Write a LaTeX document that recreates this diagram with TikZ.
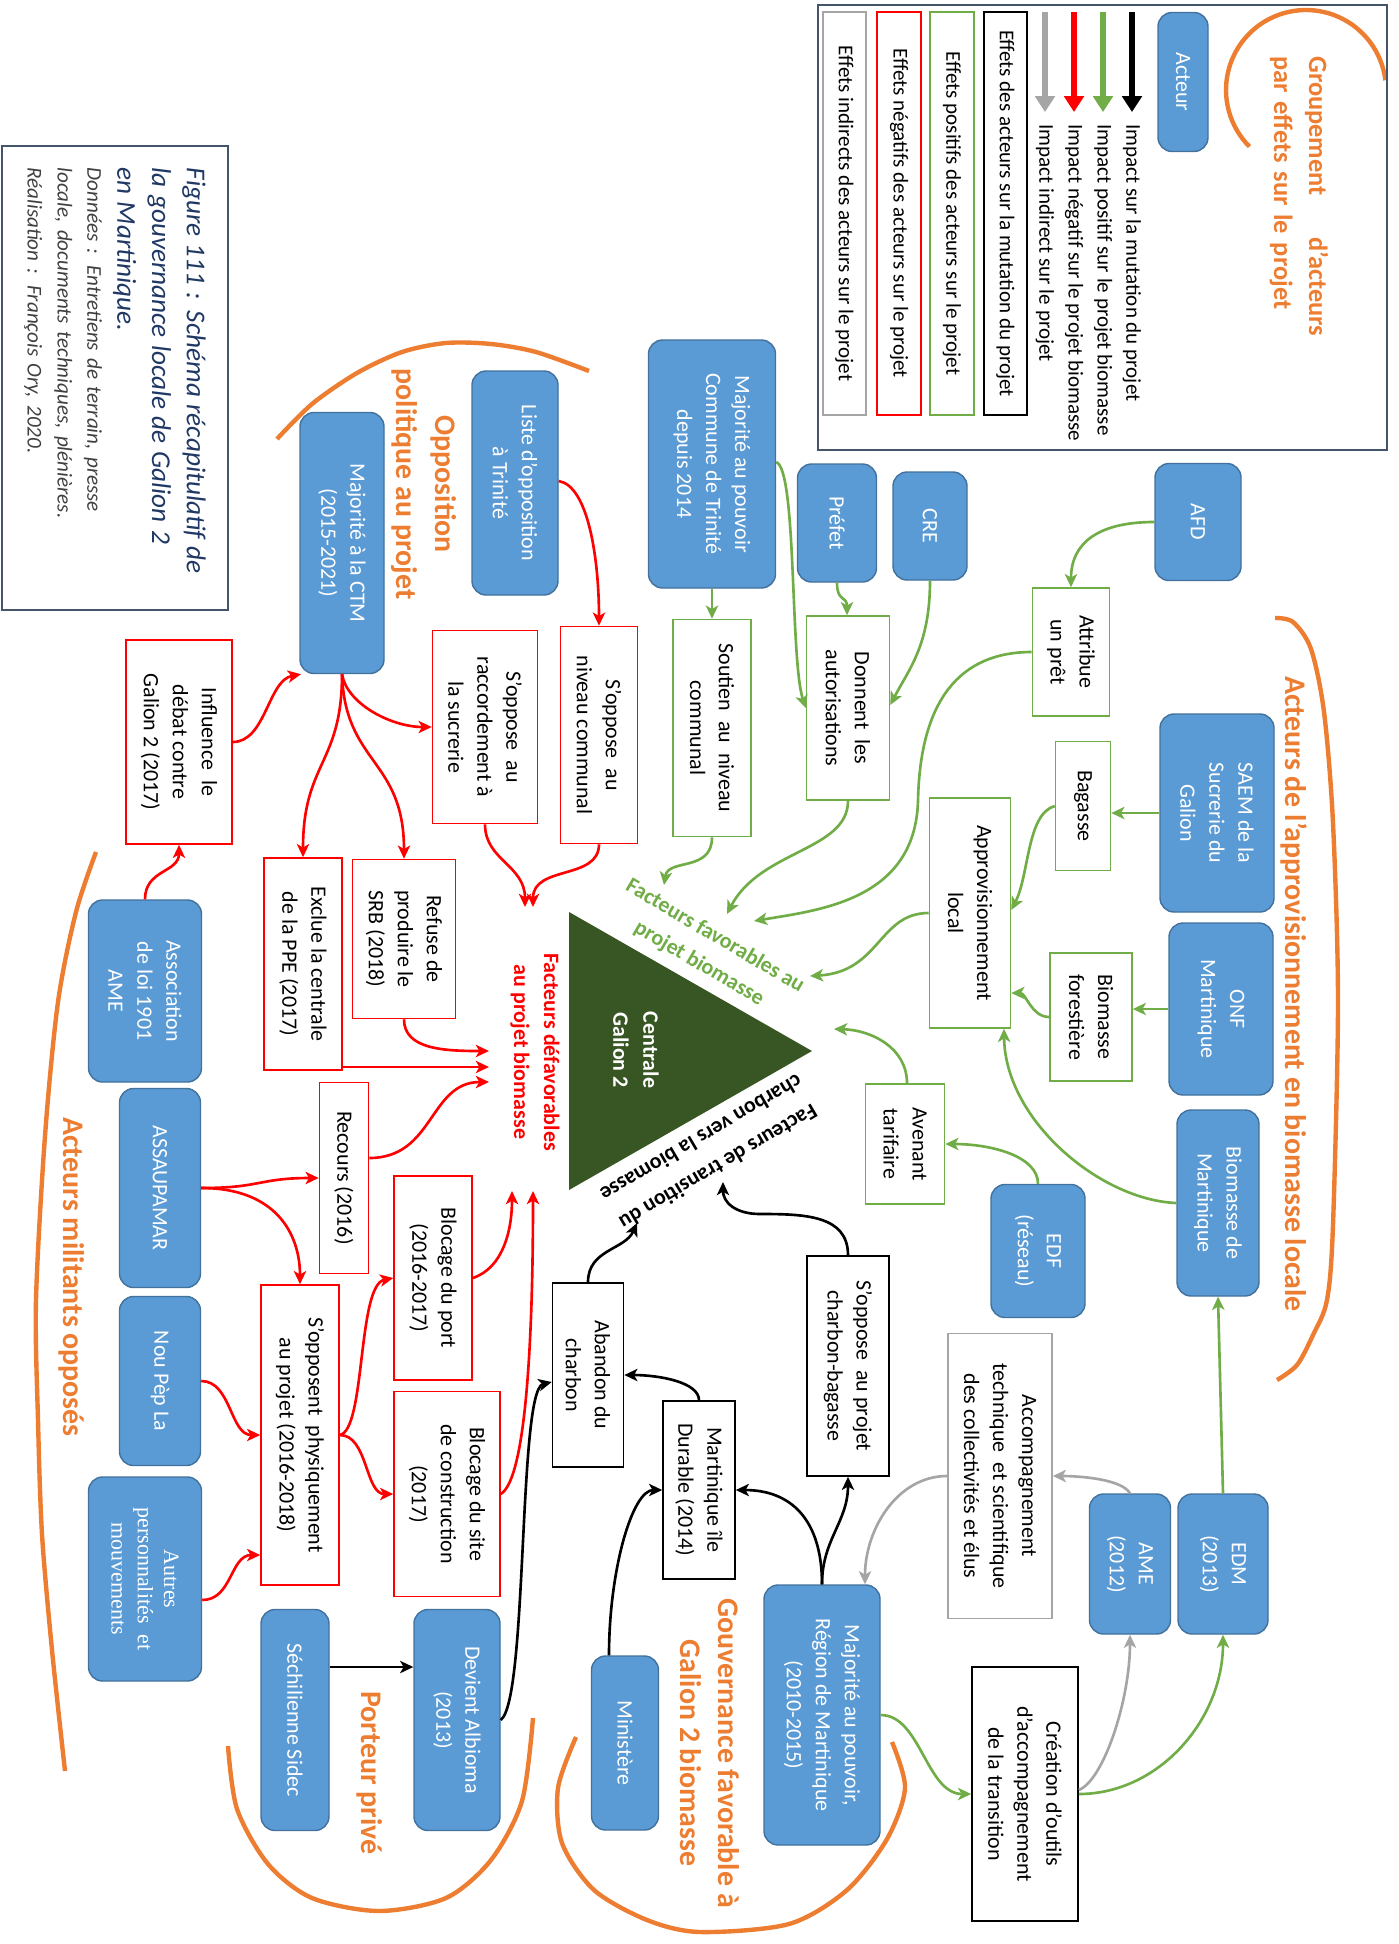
\documentclass[tikz,border=0pt]{standalone}
\usepackage{fontspec}
\setmainfont{Carlito}
\newfontfamily\serifont{Liberation Serif}
\usetikzlibrary{arrows.meta,calc}
\definecolor{actfill}{HTML}{5B9BD5}
\definecolor{actdraw}{HTML}{41719C}
\definecolor{grn}{HTML}{70AD47}
\definecolor{gry}{HTML}{A5A5A5}
\definecolor{org}{HTML}{ED7D31}
\definecolor{trif}{HTML}{375623}
\definecolor{frame}{HTML}{44546A}
\definecolor{navy}{HTML}{1F3864}
\definecolor{capgray}{HTML}{404040}
\definecolor{rd}{HTML}{FF0000}
\begin{document}
\begin{tikzpicture}[x=0.02cm,y=-0.02cm,
  vb/.style={rotate=-90, inner sep=1pt, align=center, font=\fontsize{12.5}{16.5}\selectfont},
  sz/.style 2 args={minimum height={#1*0.02cm}, minimum width={#2*0.02cm}},
  actor/.style={vb, fill=actfill, draw=actdraw, line width=0.8pt, rounded corners=8pt, text=white},
  gbox/.style={vb, draw=grn, fill=white, line width=0.9pt},
  rbox/.style={vb, draw=rd, fill=white, line width=0.9pt},
  kbox/.style={vb, draw=black, fill=white, line width=0.9pt},
  ybox/.style={vb, draw=gry, fill=white, line width=0.9pt},
  heading/.style={vb, inner sep=0pt, text=org, font=\bfseries\fontsize{17}{22}\selectfont},
  arrtip/.style={-{Stealth[length=7.5pt,width=7pt,inset=2pt]}},
  garr/.style={draw=grn, line width=1.5pt, arrtip},
  rarr/.style={draw=rd, line width=1.5pt, arrtip},
  karr/.style={draw=black, line width=1.5pt, arrtip},
  yarr/.style={draw=gry, line width=1.5pt, arrtip},
  orarc/.style={draw=org, line width=2.5pt},
  larr/.style={line width=3pt, -{Triangle[length=9pt,width=11pt]}},
  legtxt/.style={vb, inner sep=0pt, font=\fontsize{12}{15}\selectfont},
]
\path[use as bounding box, fill=white] (0,0) rectangle (1399,1944);

% ---------- orange group arcs ----------
\draw[orarc] plot[domain=225:7, samples=60, variable=\t] ({1306+80*cos(\t)},{90-80*sin(\t)});
\draw[orarc] plot[smooth] coordinates {(277,439) (312,404) (357,373) (402,352) (446,343) (491,344) (536,352) (589,371)};
\draw[orarc] plot[smooth] coordinates {(1275,618) (1293,622) (1311,649) (1324,712) (1333,823) (1338,1002) (1333,1225) (1327,1300) (1313,1335) (1297,1365) (1277,1380)};
\draw[orarc] plot[smooth] coordinates {(96,852) (76,912) (58,1002) (45,1136) (36,1300) (38,1420) (42,1534) (52,1650) (65,1771)};
\draw[orarc] plot[smooth] coordinates {(228,1746) (237,1809) (268,1864) (312,1898) (379,1911) (446,1898) (491,1860) (522,1801) (533,1718)};
\draw[orarc] plot[smooth] coordinates {(576,1737) (558,1788) (562,1843) (594,1890) (647,1920) (700,1932) (789,1924) (847,1890) (887,1839) (905,1788) (892,1742)};

% ---------- caption ----------
\node[vb, draw=frame, line width=1.5pt, sz={226}{464}, inner sep=0pt, align=left, text width=8.42cm] (caption) at (115,378) {%
{\noindent\color{navy}\itshape\fontsize{15.5}{19.8}\selectfont
\makebox[8.42cm][s]{Figure 111 : Schéma récapitulatif de}\newline
\makebox[8.42cm][s]{la gouvernance locale de Galion 2}\newline
en Martinique.\par}
{\noindent\color{capgray}\itshape\fontsize{12}{17}\selectfont
\makebox[8.42cm][s]{Données : Entretiens de terrain, presse}\newline
\makebox[8.42cm][s]{locale, documents techniques, plénières.}\newline
Réalisation : François Ory, 2020.\par}};

% ---------- legend ----------
\node[draw=frame, line width=1.3pt, minimum width={569*0.02cm}, minimum height={445*0.02cm}, inner sep=0pt] (legend) at (1102.5,227.5) {};
\node[vb, inner sep=0pt, text=org, anchor=west, align=left, text width=5.7cm, font=\bfseries\fontsize{15}{20}\selectfont] (hgroup) at (1299,56)
  {\hbox to 5.6cm{Groupement\hfill d’acteurs}\newline par effets sur le projet};
\node[actor, sz={50}{139}] (acteur) at (1183,82) {Acteur};
\node[legtxt, anchor=west] (lk) at (1132,124) {Impact sur la mutation du projet};
\node[legtxt, anchor=west] (lg) at (1103,124) {Impact positif sur le projet biomasse};
\node[legtxt, anchor=west] (lr) at (1074,124) {Impact négatif sur le projet biomasse};
\node[legtxt, anchor=west] (ly) at (1045,124) {Impact indirect sur le projet};
\coordinate (lk0) at (1132,12); \coordinate (lg0) at (1103,12);
\coordinate (lr0) at (1074,12); \coordinate (ly0) at (1045,12);
\draw[larr, black] (lk0) -- ($(lk.west)+(0,-12)$);
\draw[larr, grn] (lg0) -- ($(lg.west)+(0,-12)$);
\draw[larr, rd] (lr0) -- ($(lr.west)+(0,-12)$);
\draw[larr, gry] (ly0) -- ($(ly.west)+(0,-12)$);
\node[kbox, sz={43}{403}, font=\fontsize{12}{15}\selectfont] (lgk) at (1005.5,213.5) {Effets des acteurs sur la mutation du projet};
\node[gbox, sz={44}{403}, font=\fontsize{12}{15}\selectfont] (lgg) at (952,213.5) {Effets positifs des acteurs sur le projet};
\node[rbox, sz={44}{403}, font=\fontsize{12}{15}\selectfont] (lgr) at (899,213.5) {Effets négatifs des acteurs sur le projet};
\node[ybox, sz={43}{403}, font=\fontsize{12}{15}\selectfont] (lgy) at (844.5,213.5) {Effets indirects des acteurs sur le projet};

% ---------- headings ----------
\node[heading, font=\bfseries\fontsize{17}{22.7}\selectfont] (hopp) at (424,484) {Opposition\\politique au projet};
\node[heading] (happro) at (1294,994) {Acteurs de l’approvisionnement en biomasse locale};
\node[heading] (hmil) at (72,1277) {Acteurs militants opposés};
\node[heading] (hport) at (370,1773) {Porteur privé};
\node[heading, font=\bfseries\fontsize{17}{21.5}\selectfont] (hgouv) at (710,1753) {Gouvernance favorable à\\Galion 2 biomasse};

% ---------- central triangle ----------
\fill[trif] (569,912) -- (569,1190) -- (812,1051) -- cycle;
\node[vb, text=white, font=\bfseries\fontsize{12.5}{17}\selectfont] (centrale) at (636,1050) {Centrale\\Galion 2};
\node[rotate=-30.5, inner sep=0pt, align=center, text=grn, font=\bfseries\fontsize{12.5}{18}\selectfont] (tfav) at (707,950) {Facteurs favorables au\\projet biomasse};
\node[rotate=210.5, inner sep=0pt, align=center, text=black, font=\bfseries\fontsize{12.5}{19}\selectfont] (ttrans) at (710,1153) {Facteurs de transition du\\charbon vers la biomasse};
\node[vb, inner sep=0pt, text=rd, font=\bfseries\fontsize{12.5}{17}\selectfont] (tdef) at (535,1052) {Facteurs défavorables\\au projet biomasse};

% ---------- actors ----------
\node[actor, sz={127}{248}] (trin) at (712,464) {Majorité au pouvoir\\Commune de Trinité\\depuis 2014};
\node[actor, sz={79}{118}] (prefet) at (837,523) {Préfet};
\node[actor, sz={74}{108}] (cre) at (930,526) {CRE};
\node[actor, sz={86}{117}] (afd) at (1198,522) {AFD};
\node[actor, sz={86}{224}] (liste) at (515,483) {Liste d’opposition\\à Trinité};
\node[actor, sz={84}{261}] (ctm) at (342,543) {Majorité à la CTM\\(2015-2021)};
\node[actor, sz={114}{198}] (saem) at (1217,813) {SAEM de la\\Sucrerie du\\Galion};
\node[actor, sz={104}{172}] (onf) at (1221,1009) {ONF\\Martinique};
\node[actor, sz={82}{186}] (bdm) at (1218,1203) {Biomasse de\\Martinique};
\node[actor, sz={94}{133}] (edf) at (1038,1251) {EDF\\(réseau)};
\node[actor, sz={90}{140}] (edm) at (1223,1564) {EDM\\(2013)};
\node[actor, sz={81}{140}] (ame2) at (1130,1564) {AME\\(2012)};
\node[actor, sz={116}{260}] (region) at (822,1715) {Majorité au pouvoir,\\Région de Martinique\\(2010-2015)};
\node[actor, sz={67}{174}] (minist) at (625,1743) {Ministère};
\node[actor, sz={86}{221}] (albioma) at (457,1720) {Devient Albioma\\(2013)};
\node[actor, sz={68}{221}] (sechi) at (295,1720) {Séchilienne Sidec};
\node[actor, sz={113}{182}] (assoc) at (145,991) {Association\\de loi 1901\\AME};
\node[actor, sz={81}{199}] (assau) at (160,1188) {ASSAUPAMAR};
\node[actor, sz={81}{169}] (noupep) at (160,1381) {Nou Pèp La};
\node[actor, sz={113}{204}, font=\serifont\fontsize{12.5}{15}\selectfont] (autres) at (145,1579) {Autres\\personnalités\ \ et\\mouvements};

% ---------- green effects ----------
\node[gbox, sz={77}{128}] (pret) at (1071,652) {Attribue\\un prêt};
\node[gbox, sz={83}{184}] (autor) at (848,708) {Donnent\ \ les\\autorisations};
\node[gbox, sz={78}{217}] (soutien) at (712,728) {Soutien\ \ au\ \ niveau\\communal};
\node[gbox, sz={55}{129}] (bagasse) at (1083,806) {Bagasse};
\node[gbox, sz={82}{128}] (bfor) at (1091,1017) {Biomasse\\forestière};
\node[gbox, sz={81}{230}] (appro) at (970,913) {Approvisionnement\\local};
\node[gbox, sz={79}{120}] (avenant) at (905,1144) {Avenant\\tarifaire};

% ---------- red effects ----------
\node[rbox, sz={77}{217}] (sonc) at (599,735) {S’oppose\ \ au\\niveau communal};
\node[rbox, sz={105}{193}] (sracc) at (485,727) {S’oppose\ \ au\\raccordement à\\la sucrerie};
\node[rbox, sz={106}{204}] (influ) at (179,742) {Influence\ \ le\\débat contre\\Galion 2 (2017)};
\node[rbox, sz={103}{159}] (refuse) at (404,939) {Refuse de\\produire le\\SRB (2018)};
\node[rbox, sz={78}{212}] (exclue) at (303,964) {Exclue la centrale\\de la PPE (2017)};
\node[rbox, sz={49}{191}] (recours) at (344,1178) {Recours (2016)};
\node[rbox, sz={78}{204}] (bport) at (433,1278) {Blocage du port\\(2016-2017)};
\node[rbox, sz={106}{205}] (bsite) at (447,1494) {Blocage du site\\de construction\\(2017)};
\node[rbox, sz={78}{300}] (sphys) at (300,1435) {S’opposent\ \ physiquement\\au projet (2016-2018)};

% ---------- black / gray effects ----------
\node[kbox, sz={71}{184}] (abandon) at (588,1375) {Abandon du\\charbon};
\node[kbox, sz={72}{178}] (durable) at (699,1490) {Martinique île\\Durable (2014)};
\node[kbox, sz={82}{220}] (scb) at (848,1366) {S’oppose\ \ au projet\\charbon-bagasse};
\node[kbox, sz={106}{254}] (creation) at (1025,1794) {Création d’outils\\d’accompagnement\\de la transition};
\node[ybox, sz={104}{285}] (accomp) at (1000,1476) {Accompagnement\\technique\ \ et scientifique\\des collectivités et élus};

% ---------- free arrow ends near the triangle ----------
\coordinate (g1) at (754,921); \coordinate (g2) at (727,914); \coordinate (g3) at (664,885);
\coordinate (g4) at (810,976); \coordinate (g5) at (834,1029);
\coordinate (r1) at (533,907); \coordinate (r2) at (525,907);
\coordinate (r3) at (489,1051); \coordinate (r4) at (489,1067); \coordinate (r5) at (489,1082);
\coordinate (r6) at (512,1191); \coordinate (r7) at (533,1191);
\coordinate (k1) at (723,1182); \coordinate (k2) at (637,1223);

% ---------- green connectors ----------
\draw[garr] (trin.east) -- (soutien.west);
\draw[garr] ($(trin.north)+(0,-2)$) .. controls (797,470) and (790,660) .. (autor.south);
\draw[garr] (prefet.east) .. controls +(0,20) and +(0,-20) .. ($(autor.west)+(-1,0)$);
\draw[garr] (cre.east) .. controls +(0,65) and +(18,-35) .. ($(autor.north)+(0,-3)$);
\draw[garr] (afd.south) .. controls +(-55,0) and +(0,-45) .. (pret.west);
\draw[garr] (pret.south) .. controls (960,652) and (920,700) .. (918,801) .. controls (915,900) and (820,910) .. (g1);
\draw[garr] (autor.east) .. controls +(0,50) and (760,850) .. (g2);
\draw[garr] (soutien.east) .. controls +(0,35) and (668,858) .. (g3);
\draw[garr] (saem.south) -- (saem.south -| bagasse.north);
\draw[garr] (onf.south) -- (onf.south -| bfor.north);
\draw[garr] (bagasse.south) .. controls +(-28,8) and +(18,-35) .. ($(appro.north)+(0,-3)$);
\draw[garr] (bfor.south) .. controls +(-18,0) and +(15,0) .. ($(appro.north)+(0,80)$);
\draw[garr] (bdm.south) .. controls (1100,1200) and (1005,1120) .. ($(appro.east)+(34,0)$);
\draw[garr] (appro.south) .. controls +(-50,0) and (880,972) .. (g4);
\draw[garr] ($(avenant.west)+(2,0)$) .. controls +(0,-35) and (872,1030) .. (g5);
\draw[garr] (edf.west) .. controls +(0,-28) and +(45,0) .. (avenant.north);
\draw[garr] (region.north) .. controls +(40,0) and +(-45,0) .. (creation.south);
\draw[garr] (creation.north) .. controls +(80,0) and +(0,85) .. (edm.east);
\draw[garr] (edm.west) -- (bdm.east);

% ---------- gray connectors ----------
\draw[yarr] ($(creation.north)+(0,-4)$) .. controls +(25,-10) and +(0,65) .. (ame2.east);
\draw[yarr] (ame2.west) .. controls +(-8,-14) and +(28,0) .. (accomp.north);
\draw[yarr] (accomp.south) .. controls +(-50,0) and +(0,-55) .. ($(region.west)+(43,0)$);

% ---------- black connectors ----------
\draw[karr] (region.west) .. controls +(0,-45) and +(0,45) .. (scb.east);
\draw[karr] (region.west) .. controls +(0,-65) and +(55,0) .. (durable.north);
\draw[karr] (scb.west) .. controls +(0,-40) and +(45,0) .. (760,1214) .. controls +(-25,0) and +(0,20) .. (k1);
\draw[karr] (abandon.west) .. controls +(0,-33) and +(-12,27) .. (k2);
\draw[karr] (durable.west) .. controls +(0,-18) and +(35,0) .. (abandon.north);
\draw[karr] ($(minist.west)+(-16,0)$) .. controls +(0,-85) and +(-30,0) .. (durable.south);
\draw[karr] (albioma.north) .. controls (528,1700) and (518,1390) .. ($(abandon.south)+(0,7)$);
\draw[karr] ($(sechi.north)+(0,-53)$) -- ($(albioma.south)+(0,-53)$);

% ---------- red connectors ----------
\draw[rarr] ($(liste.north)+(0,-2)$) .. controls +(30,5) and +(0,-65) .. (sonc.west);
\draw[rarr] (sonc.east) .. controls +(0,36) and +(0,-42) .. (r1);
\draw[rarr] (sracc.east) .. controls +(0,36) and +(0,-42) .. (r2);
\draw[rarr] (ctm.east) .. controls +(5,30) and +(-40,0) .. (sracc.south);
\draw[rarr] (ctm.east) .. controls +(3,90) and +(0,-100) .. (refuse.west);
\draw[rarr] (ctm.east) .. controls +(0,90) and +(0,-95) .. (exclue.west);
\draw[rarr] (influ.north) .. controls +(33,0) and +(-33,6) .. ($(ctm.east)+(-41,0)$);
\draw[rarr] (assoc.west) .. controls +(0,-30) and +(0,28) .. (influ.east);
\draw[rarr] (refuse.east) .. controls +(0,30) and +(-45,0) .. (r3);
\draw[rarr] ($(exclue.north)+(0,103)$) -- (r4);
\draw[rarr] ($(recours.north)+(0,-20)$) .. controls +(65,0) and +(-60,0) .. (r5);
\draw[rarr] (assau.north) .. controls +(60,0) and +(-60,0) .. (recours.south);
\draw[rarr] (assau.north) .. controls +(75,0) and +(0,-50) .. (sphys.west);
\draw[rarr] (noupep.north) .. controls +(30,0) and +(-30,0) .. (sphys.south);
\draw[rarr] ($(autres.north)+(0,21)$) .. controls +(30,0) and +(-30,0) .. ($(sphys.south)+(0,120)$);
\draw[rarr] (sphys.north) .. controls +(26,-5) and +(-36,7) .. (bport.south);
\draw[rarr] (sphys.north) .. controls +(28,0) and +(-28,0) .. (bsite.south);
\draw[rarr] (bport.north) .. controls +(30,-10) and +(0,40) .. (r6);
\draw[rarr] (bsite.north) .. controls +(25,-15) and +(0,150) .. (r7);
\end{tikzpicture}
\end{document}
